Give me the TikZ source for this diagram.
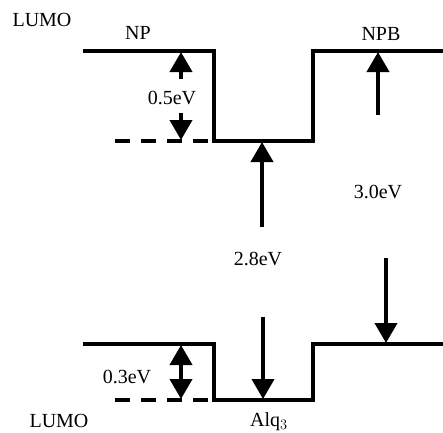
\documentclass[tikz,border=0pt]{standalone}
\usepackage{fontspec}
\setmainfont{Liberation Serif}
\usetikzlibrary{arrows.meta}
\begin{document}
\begin{tikzpicture}[x=1pt,y=-1pt,
  level/.style={line width=4pt,line join=miter,line cap=butt},
  dashlevel/.style={line width=4pt,dash pattern=on 15pt off 11pt},
  arr/.style={line width=4pt,-{Triangle[width=22pt,length=20pt]}},
  darr/.style={line width=4pt,{Triangle[width=22pt,length=20pt]}-{Triangle[width=22pt,length=20pt]}},
  lbl/.style={inner sep=0pt,anchor=base,font=\fontsize{20}{24}\selectfont}]
\useasboundingbox (0,0) rectangle (443,432);
% upper levels
\coordinate (u1) at (83,51);
\coordinate (u2) at (214,51);
\coordinate (u3) at (214,141);
\coordinate (u4) at (313,141);
\coordinate (u5) at (313,51);
\coordinate (u6) at (443,51);
\draw[level] (u1) -- (u2) -- (u3) -- (u4) -- (u5) -- (u6);
\coordinate (ud) at (115,141);
\draw[dashlevel] (ud) -- (u3);
% lower levels
\coordinate (l1) at (83,344);
\coordinate (l2) at (214,344);
\coordinate (l3) at (214,400);
\coordinate (l4) at (313,400);
\coordinate (l5) at (313,344);
\coordinate (l6) at (443,344);
\draw[level] (l1) -- (l2) -- (l3) -- (l4) -- (l5) -- (l6);
\coordinate (ld) at (115,400);
\draw[dashlevel] (ld) -- (l3);
% labels
\node[lbl] (lumo1) at (42,26) {LUMO};
\node[lbl] (np) at (138,39) {NP};
\node[lbl] (npb) at (381,40) {NPB};
\node[lbl] (e05) at (172,104) {0.5eV};
\node[lbl] (e30) at (378,198) {3.0eV};
\node[lbl] (e28) at (258,265) {2.8eV};
\node[lbl] (e03) at (127,383) {0.3eV};
\node[lbl] (lumo2) at (59,427) {LUMO};
\node[lbl] (alq) at (269,426) {Alq$_3$};
% arrows
\coordinate (a1s) at (181,79);  \coordinate (a1e) at (181,52);
\draw[arr] (a1s) -- (a1e);
\coordinate (a2s) at (181,113); \coordinate (a2e) at (181,140);
\draw[arr] (a2s) -- (a2e);
\coordinate (a3s) at (378,115); \coordinate (a3e) at (378,52);
\draw[arr] (a3s) -- (a3e);
\coordinate (a4s) at (262,227); \coordinate (a4e) at (262,142);
\draw[arr] (a4s) -- (a4e);
\coordinate (a5s) at (263,317); \coordinate (a5e) at (263,399);
\draw[arr] (a5s) -- (a5e);
\coordinate (a6s) at (386,258); \coordinate (a6e) at (386,343);
\draw[arr] (a6s) -- (a6e);
\coordinate (a7s) at (181,345); \coordinate (a7e) at (181,399);
\draw[darr] (a7s) -- (a7e);
\end{tikzpicture}
\end{document}
